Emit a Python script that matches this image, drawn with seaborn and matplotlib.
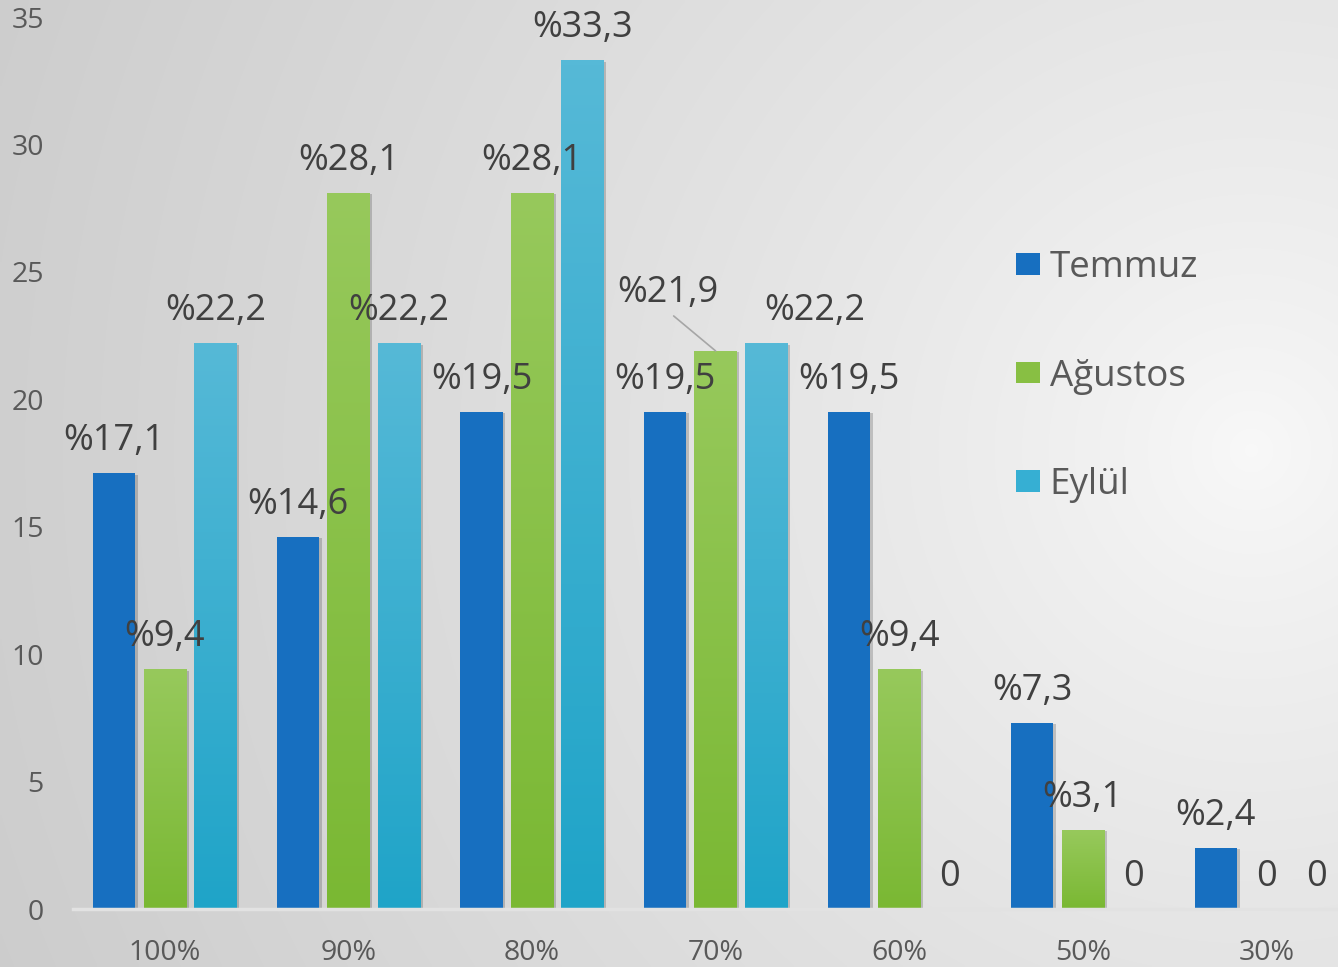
import numpy as np
import pandas as pd
import matplotlib
matplotlib.use("Agg")
import matplotlib.pyplot as plt
import matplotlib.patheffects as pe
from matplotlib.colors import LinearSegmentedColormap
import seaborn as sns

# ---------------- data ----------------
categories = ["100%", "90%", "80%", "70%", "60%", "50%", "30%"]
series = ["Temmuz", "Ağustos", "Eylül"]
temmuz = [17.1, 14.6, 19.5, 19.5, 19.5, 7.3, 2.4]
agustos = [9.4, 28.1, 28.1, 21.9, 9.4, 3.1, 0.0]
eylul = [22.2, 22.2, 33.3, 22.2, 0.0, 0.0, 0.0]
y_ticks = [0, 5, 10, 15, 20, 25, 30, 35]

df = pd.DataFrame({
    "Kategori": categories * 3,
    "Seri": [s for s in series for _ in categories],
    "Değer": temmuz + agustos + eylul,
})

# ---------------- style ----------------
sns.set_theme(style="white")
plt.rcParams["font.family"] = ["Open Sans", "DejaVu Sans"]

colors = {"Temmuz": "#176fc0", "Ağustos": "#88bf43", "Eylül": "#36afd3"}
grad_colors = {"Ağustos": ("#7ab833", "#97c95c"), "Eylül": ("#1fa4c8", "#56b9d7")}
tick_color = "#595959"
label_color = "#404040"

W, H = 1338, 967
fig = plt.figure(figsize=(W / 100, H / 100), dpi=100)

# background gradient (light towards right-middle, grey to the left)
bg = fig.add_axes([0, 0, 1, 1], zorder=-10)
yy, xx = np.mgrid[0:H:3, 0:W:3]
d = np.hypot(xx - 1250, yy - 450)
v = np.clip(0.975 - 0.17 * (d / 1330) ** 0.8, 0, 1)
bg.imshow(np.dstack([v, v, v]), extent=[0, 1, 0, 1], aspect="auto",
          origin="upper", interpolation="bilinear")
bg.axis("off")

ax = fig.add_axes([73 / W, 1 - 909 / H, 1 - 73 / W, 909 / H])
ax.patch.set_alpha(0)

sns.barplot(data=df, x="Kategori", y="Değer", hue="Seri", order=categories,
            hue_order=series, palette=colors, width=0.825, gap=0.164,
            saturation=1, errorbar=None, linewidth=0, edgecolor="none",
            ax=ax, legend=True)

# bar shadows and gradients
shadow = [pe.SimplePatchShadow(offset=(2, -1), shadow_rgbFace=(0, 0, 0), alpha=0.18), pe.Normal()]
grad = np.linspace(0, 1, 256).reshape(-1, 1)
for name, cont in zip(series, ax.containers):
    for bar in cont:
        bar.set_path_effects(shadow)
        if name in grad_colors and bar.get_height() > 0:
            cmap = LinearSegmentedColormap.from_list(name, grad_colors[name])
            x0 = bar.get_x()
            im = ax.imshow(grad, cmap=cmap, extent=[x0, x0 + bar.get_width(), 0, bar.get_height()],
                           aspect="auto", origin="lower", zorder=bar.get_zorder() + 0.1,
                           interpolation="bilinear")
            im.set_clip_path(bar)

# data labels
nudges = {("70%", "Ağustos"): (-48, 26), ("70%", "Eylül"): (49, 0)}
for name, cont in zip(series, ax.containers):
    for cat, bar in zip(categories, cont):
        h = bar.get_height()
        txt = "0" if h == 0 else "%" + f"{h:.1f}".replace(".", ",")
        dx, dy = nudges.get((cat, name), (0, 0))
        xc = bar.get_x() + bar.get_width() / 2
        kw = {}
        if (cat, name) == ("70%", "Ağustos"):
            kw["arrowprops"] = dict(arrowstyle="-", color="#a6a6a6", lw=1.2,
                                    shrinkA=2, shrinkB=0, relpos=(0.5, 0))
        ax.annotate(txt, xy=(xc, h), xytext=(dx, 32 + dy), textcoords="offset pixels",
                    ha="center", va="center", fontsize=26, color=label_color, zorder=10, **kw)

# axes styling
ax.set_xlim(-0.5, 6.39)
ax.set_ylim(0, 35.67)
ax.set_yticks(y_ticks)
ax.set_xlabel("")
ax.set_ylabel("")
for s in ["top", "right", "left"]:
    ax.spines[s].set_visible(False)
ax.spines["bottom"].set_color("#e2e2e2")
ax.spines["bottom"].set_linewidth(2.5)
ax.tick_params(axis="both", length=0, labelsize=20.5, colors=tick_color)
ax.tick_params(axis="y", pad=21)
ax.tick_params(axis="x", pad=21.5)
ax.grid(False)

# legend
old = ax.get_legend()
handles = old.legend_handles
labels = [t.get_text() for t in old.get_texts()]
old.remove()
leg = fig.legend(handles, labels, loc="upper left", bbox_to_anchor=(1016 / W, 1 - 250 / H),
                 bbox_transform=fig.transFigure, frameon=False, fontsize=26.5,
                 handlelength=0.65, handleheight=0.52, handletextpad=0.27,
                 labelspacing=1.97, borderpad=0, borderaxespad=0)
for t in leg.get_texts():
    t.set_color(tick_color)

fig.savefig("out.png", dpi=100)
